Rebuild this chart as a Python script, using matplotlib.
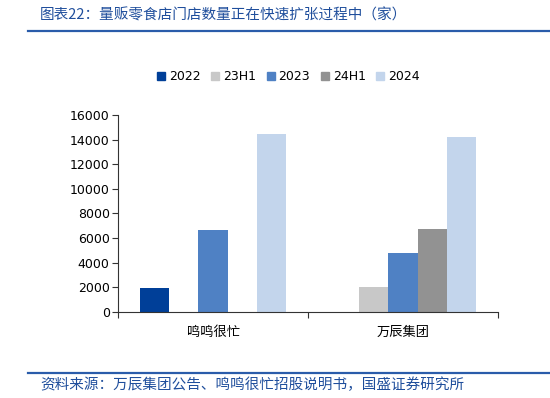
import matplotlib
matplotlib.use("Agg")
import matplotlib.pyplot as plt
from matplotlib.lines import Line2D
from matplotlib.patches import Patch
import numpy as np

plt.rcParams['font.family'] = ['Noto Sans CJK SC', 'DejaVu Sans']

# data
companies = ["鸣鸣很忙", "万辰集团"]
periods = ["2022", "23H1", "2023", "24H1", "2024"]
v_2022 = [1950, np.nan]
v_23h1 = [np.nan, 2000]
v_2023 = [6650, 4800]
v_24h1 = [np.nan, 6700]
v_2024 = [14450, 14250]
colors = ["#003f98", "#c8c8c8", "#4f81c4", "#929292", "#c3d5ec"]

title = "图表22：量贩零食店门店数量正在快速扩张过程中（家）"
source = "资料来源：万辰集团公告、鸣鸣很忙招股说明书，国盛证券研究所"
blue = "#1f4e9c"

fig = plt.figure(figsize=(5.5, 3.98), dpi=100)
ax = fig.add_axes([118 / 550, 1 - 311.7 / 398, 380 / 550, 196.7 / 398])

series = [v_2022, v_23h1, v_2023, v_24h1, v_2024]
centers = np.arange(len(companies)) + 0.5
w = 0.154
for i, (vals, c) in enumerate(zip(series, colors)):
    ax.bar(centers + (i - 2) * w, vals, width=w, color=c, label=periods[i])

ax.set_xlim(0, 2)
ax.set_ylim(0, 16000)
ax.set_yticks(np.arange(0, 16001, 2000))
ax.set_xticks([0, 1, 2])
ax.set_xticklabels([])
ax.set_xticks(centers, minor=True)
ax.set_xticklabels(companies, minor=True, fontsize=9.5)
ax.tick_params(axis="x", which="minor", length=0, pad=10)
ax.tick_params(axis="x", which="major", length=4, direction="out", color="#333333")
ax.tick_params(axis="y", length=4, direction="out", labelsize=9, color="#333333", pad=2)
for lab in ax.get_yticklabels():
    lab.set_family("DejaVu Sans")
for s in ["top", "right"]:
    ax.spines[s].set_visible(False)
ax.spines["left"].set_color("#333333")
ax.spines["bottom"].set_color("#333333")

handles = [Patch(color=c) for c in colors]
fig.legend(handles, periods, loc="center", bbox_to_anchor=(0.5245, 1 - 77 / 398),
           ncol=5, frameon=False, prop={"family": "DejaVu Sans", "size": 9},
           handlelength=0.65, handleheight=0.65,
           handletextpad=0.3, columnspacing=0.85, borderaxespad=0)

fig.text(40 / 550, 1 - 15 / 398, title, color=blue, fontsize=10.5, va="center", ha="left")
fig.text(40 / 550, 1 - 385 / 398, source, color=blue, fontsize=10.5, va="center", ha="left")
fig.add_artist(Line2D([28 / 550, 1], [1 - 31 / 398] * 2, color="#2a5caa", lw=1.6))
fig.add_artist(Line2D([28 / 550, 1], [1 - 373 / 398] * 2, color="#2a5caa", lw=1.6))

fig.savefig("out.png", dpi=100)
